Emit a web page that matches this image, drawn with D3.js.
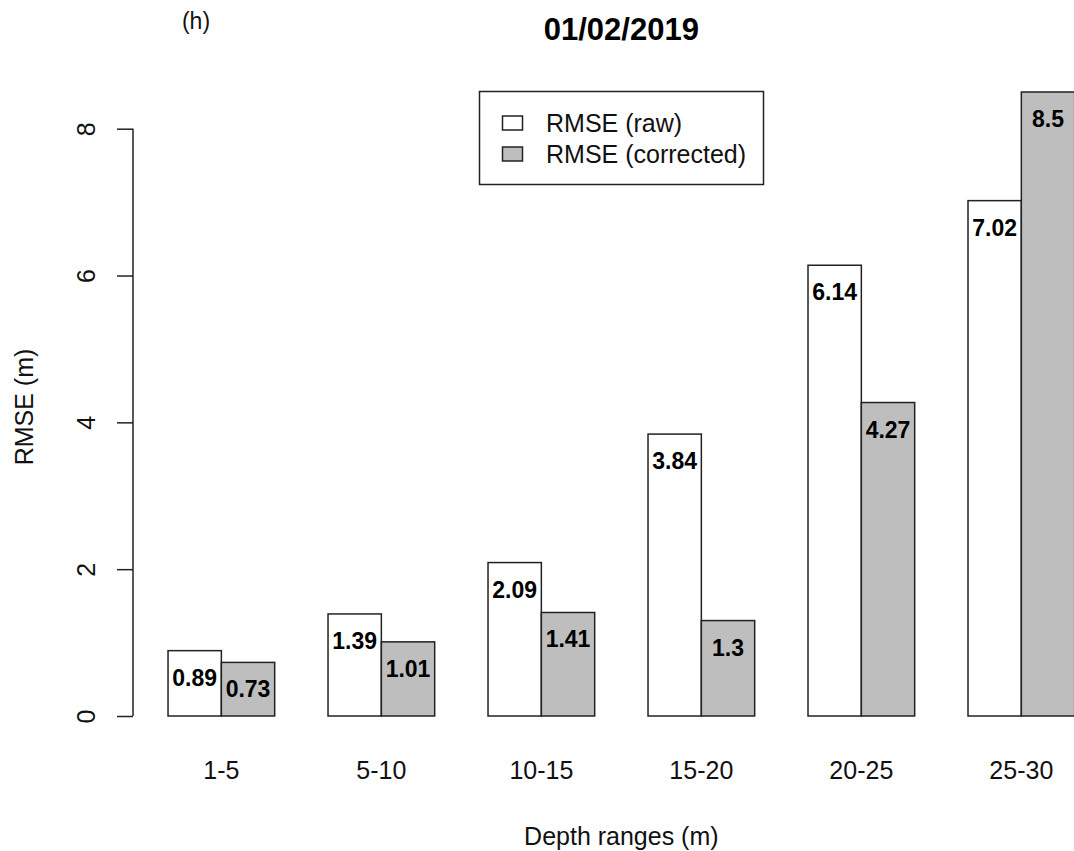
<!DOCTYPE html>
<html>
<head>
<meta charset="utf-8">
<script src="https://cdn.jsdelivr.net/npm/d3@7"></script>
<style>
  html, body { margin: 0; padding: 0; background: #fff; }
  svg { display: block; font-family: "Liberation Sans", Arial, sans-serif; }
</style>
</head>
<body>
<svg id="chart" width="1074" height="851"></svg>
<script>
// Depth ranges and RMSE values (m)
const categories = ["1-5", "5-10", "10-15", "15-20", "20-25", "25-30"];
const rmseRaw = [0.89, 1.39, 2.09, 3.84, 6.14, 7.02];
const rmseCorrected = [0.73, 1.01, 1.41, 1.3, 4.27, 8.5];
const yTicks = [0, 2, 4, 6, 8];
const seriesNames = ["RMSE (raw)", "RMSE (corrected)"];
const seriesFills = ["#ffffff", "#bebebe"];

const svg = d3.select("#chart");

// Bar positions in barplot units: each group holds two unit-wide bars, one unit gap between groups
const x = d3.scaleLinear().domain([0, 19]).range([114.7, 1128]);
const y = d3.scaleLinear().domain([0, 8]).range([716, 128.7]);

const bars = [];
categories.forEach((c, g) => {
  [rmseRaw[g], rmseCorrected[g]].forEach((v, s) => {
    bars.push({ cat: c, series: s, value: v, left: 1 + 3 * g + s });
  });
});

// Bars
svg.append("g").selectAll("rect")
  .data(bars)
  .join("rect")
  .attr("x", d => x(d.left))
  .attr("width", d => x(d.left + 1) - x(d.left))
  .attr("y", d => y(d.value))
  .attr("height", d => y(0) - y(d.value))
  .attr("fill", d => seriesFills[d.series])
  .attr("stroke", "#222")
  .attr("stroke-width", 1.5);

// Value labels inside the top of each bar
svg.append("g").selectAll("text")
  .data(bars)
  .join("text")
  .attr("x", d => x(d.left + 0.5))
  .attr("y", d => y(d.value) + 27)
  .attr("text-anchor", "middle")
  .attr("dominant-baseline", "central")
  .attr("font-weight", "bold")
  .attr("font-size", 23)
  .attr("fill", "#000")
  .text(d => d.value);

// Y axis
const yAxis = d3.axisLeft(y).tickValues(yTicks).tickSize(16).tickFormat(d3.format("d"));
const yg = svg.append("g")
  .attr("transform", "translate(133,0)")
  .call(yAxis);
yg.select(".domain").attr("d", `M0,${y(8)}V${y(0)}`).attr("stroke", "#222").attr("stroke-width", 1.5);
yg.selectAll(".tick line").attr("stroke", "#222").attr("stroke-width", 1.5);
yg.selectAll(".tick text")
  .attr("x", 0).attr("y", 0).attr("dy", null)
  .attr("transform", "translate(-47,0) rotate(-90)")
  .attr("text-anchor", "middle")
  .attr("dominant-baseline", "central")
  .attr("font-size", 25)
  .attr("font-family", "Liberation Sans, Arial, sans-serif")
  .attr("fill", "#111");

// Category labels under each pair of bars
svg.append("g").selectAll("text")
  .data(categories)
  .join("text")
  .attr("x", (d, g) => x(2 + 3 * g))
  .attr("y", 779)
  .attr("text-anchor", "middle")
  .attr("font-size", 25)
  .attr("fill", "#111")
  .text(d => d);

// Titles
svg.append("text")
  .attr("x", x(9.5)).attr("y", 40)
  .attr("text-anchor", "middle")
  .attr("font-weight", "bold")
  .attr("font-size", 31)
  .attr("fill", "#000")
  .text("01/02/2019");

svg.append("text")
  .attr("x", 196).attr("y", 29)
  .attr("text-anchor", "middle")
  .attr("font-size", 23)
  .attr("fill", "#111")
  .text("(h)");

svg.append("text")
  .attr("x", x(9.5)).attr("y", 845)
  .attr("text-anchor", "middle")
  .attr("font-size", 25)
  .attr("fill", "#111")
  .text("Depth ranges (m)");

svg.append("text")
  .attr("transform", "translate(24,407) rotate(-90)")
  .attr("text-anchor", "middle")
  .attr("dominant-baseline", "central")
  .attr("font-size", 25)
  .attr("fill", "#111")
  .text("RMSE (m)");

// Legend
const legend = svg.append("g");
legend.append("rect")
  .attr("x", 479.5).attr("y", 91.5)
  .attr("width", 284).attr("height", 93)
  .attr("fill", "#fff").attr("stroke", "#222").attr("stroke-width", 1.5);
const items = legend.selectAll("g.item")
  .data(seriesNames)
  .join("g")
  .attr("class", "item")
  .attr("transform", (d, i) => `translate(0,${123 + i * 31})`);
items.append("rect")
  .attr("x", 502.5).attr("y", -7)
  .attr("width", 20).attr("height", 14)
  .attr("fill", (d, i) => seriesFills[i])
  .attr("stroke", "#222").attr("stroke-width", 1.5);
items.append("text")
  .attr("x", 546).attr("y", 0)
  .attr("dominant-baseline", "central")
  .attr("font-size", 25)
  .attr("fill", "#111")
  .text(d => d);
</script>
</body>
</html>
